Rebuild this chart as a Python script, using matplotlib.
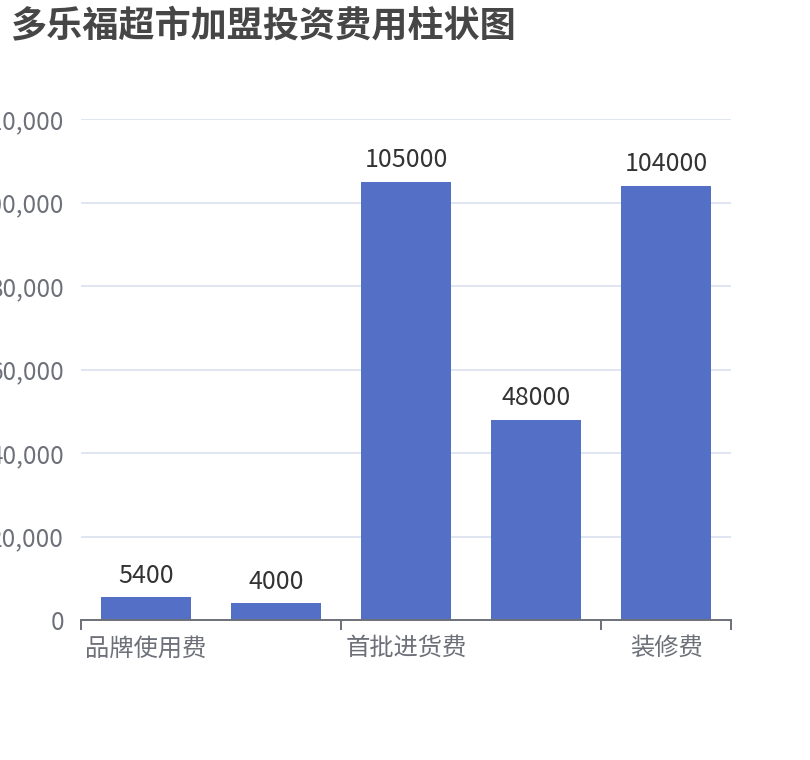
import matplotlib
matplotlib.use("Agg")
import matplotlib.pyplot as plt
from matplotlib.ticker import FuncFormatter

plt.rcParams['font.family'] = ['Noto Sans CJK SC', 'DejaVu Sans']

title = '多乐福超市加盟投资费用柱状图'
categories = ['品牌使用费', '保证金', '首批进货费', '设备费', '装修费']
values = [5400, 4000, 105000, 48000, 104000]
y_ticks = [0, 20000, 40000, 60000, 80000, 100000, 120000]
# echarts hides every other category label here
shown = [True, False, True, False, True]

bar_color = '#5470c6'
axis_color = '#6E7079'
grid_color = '#E0E6F1'

fig = plt.figure(figsize=(8.1, 7.6), dpi=100)
ax = fig.add_axes([81 / 810, 1 - 620 / 760, 650 / 810, 501 / 760])

x = list(range(len(categories)))
ax.bar(x, values, width=0.685, color=bar_color, zorder=3)
for xi, v in zip(x, values):
    ax.annotate(str(v), (xi, v), xytext=(0, 6), textcoords='offset points',
                ha='center', va='bottom', fontsize=18, color='#333333')

ax.set_xlim(-0.5, len(categories) - 0.5)
ax.set_ylim(0, 120000)
ax.set_yticks(y_ticks)
ax.yaxis.set_major_formatter(FuncFormatter(lambda v, p: f'{int(v):,}'))
ax.grid(axis='y', color=grid_color, linewidth=1.4, zorder=0)

ax.set_xticks(x)
ax.set_xticklabels([c if s else '' for c, s in zip(categories, shown)])
ax.set_xticks([-0.5, 1.5, 3.5, len(categories) - 0.5], minor=True)
ax.tick_params(axis='x', which='major', length=0, pad=11, labelsize=17.5, labelcolor=axis_color)
ax.tick_params(axis='x', which='minor', length=7, width=1.4, color=axis_color)
ax.tick_params(axis='y', length=0, pad=12, labelsize=17.5, labelcolor=axis_color)

for side in ['top', 'right', 'left']:
    ax.spines[side].set_visible(False)
ax.spines['bottom'].set_color(axis_color)
ax.spines['bottom'].set_linewidth(1.4)
ax.spines['bottom'].set_zorder(4)

fig.text(10 / 810, 1 - 26 / 760, title, fontsize=26, fontweight='bold',
         color='#464646', ha='left', va='center')

fig.savefig('out.png', dpi=100)
